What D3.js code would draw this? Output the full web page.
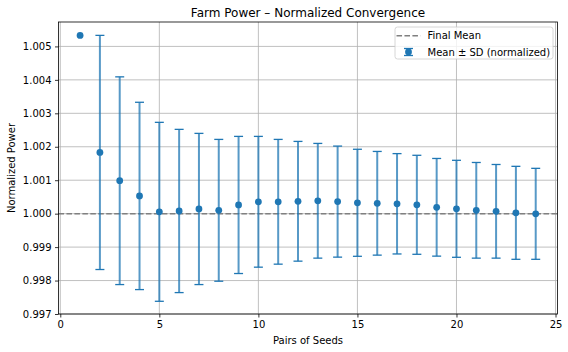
<!DOCTYPE html>
<html>
<head>
<meta charset="utf-8">
<script src="https://cdn.jsdelivr.net/npm/d3@7"></script>
<style>
    body { margin: 0; background: #fff; }
    svg { font-family: "DejaVu Sans", sans-serif; }
</style>
</head>
<body>
<div id="chart"></div>
<script>
// values
const pairs = [1, 2, 3, 4, 5, 6, 7, 8, 9, 10, 11, 12, 13, 14, 15, 16, 17, 18, 19, 20, 21, 22, 23, 24];
const means = [1.00533, 1.00183, 1.000985, 1.00053, 1.000055, 1.00008, 1.00014, 1.0001, 1.00026, 1.000355,
    1.000355, 1.00037, 1.000385, 1.00036, 1.000325, 1.00031, 1.000295, 1.000265, 1.00019, 1.000145,
    1.0001, 1.00007, 1.000025, 0.999995];
const sds = [null, 0.0035, 0.003105, 0.0028, 0.002675, 0.00244, 0.00226, 0.00212, 0.00205, 0.001955,
    0.001865, 0.00179, 0.001715, 0.00166, 0.0016, 0.00155, 0.0015, 0.00148, 0.00146, 0.00145,
    0.00143, 0.0014, 0.00139, 0.00136];
const finalMean = 1.0;
const xTicks = [0, 5, 10, 15, 20, 25];
const yTicks = [0.997, 0.998, 0.999, 1.000, 1.001, 1.002, 1.003, 1.004, 1.005];

const W = 568, H = 352;
const margin = {top: 22, right: 10.5, bottom: 38, left: 58.5};
const width = W - margin.left - margin.right;
const height = H - margin.top - margin.bottom;
const blue = "#1f77b4";

const svg = d3.select("#chart").append("svg")
    .attr("width", W)
    .attr("height", H);

const g = svg.append("g")
    .attr("transform", "translate(" + margin.left + "," + margin.top + ")");

// scales
const x = d3.scaleLinear().domain([-0.09, 25.1]).range([0, width]);
const y = d3.scaleLinear().domain([0.997, 1.00573]).range([height, 0]);

// grid
g.append("g").selectAll("line")
    .data(xTicks)
    .enter().append("line")
    .attr("x1", d => x(d)).attr("x2", d => x(d))
    .attr("y1", 0).attr("y2", height)
    .attr("stroke", "#b0b0b0").attr("stroke-width", 0.8);

g.append("g").selectAll("line")
    .data(yTicks)
    .enter().append("line")
    .attr("x1", 0).attr("x2", width)
    .attr("y1", d => y(d)).attr("y2", d => y(d))
    .attr("stroke", "#b0b0b0").attr("stroke-width", 0.8);

// final mean
g.append("line")
    .attr("x1", 0).attr("x2", width)
    .attr("y1", y(finalMean)).attr("y2", y(finalMean))
    .attr("stroke", "gray")
    .attr("stroke-width", 1.5)
    .attr("stroke-dasharray", "5.55,2.4");

// error bars
const data = pairs.map((p, i) => ({p: p, m: means[i], s: sds[i]}));
const withSd = data.filter(d => d.s !== null);

g.append("g").selectAll("line")
    .data(withSd)
    .enter().append("line")
    .attr("x1", d => x(d.p)).attr("x2", d => x(d.p))
    .attr("y1", d => y(d.m - d.s)).attr("y2", d => y(d.m + d.s))
    .attr("stroke", blue)
    .attr("stroke-opacity", 0.75)
    .attr("stroke-width", 2);

const caps = [];
withSd.forEach(d => {
    caps.push({p: d.p, v: d.m + d.s});
    caps.push({p: d.p, v: d.m - d.s});
});
g.append("g").selectAll("line")
    .data(caps)
    .enter().append("line")
    .attr("x1", d => x(d.p) - 4.5).attr("x2", d => x(d.p) + 4.5)
    .attr("y1", d => y(d.v)).attr("y2", d => y(d.v))
    .attr("stroke", blue)
    .attr("stroke-width", 1.3);

// points
g.append("g").selectAll("circle")
    .data(data)
    .enter().append("circle")
    .attr("cx", d => x(d.p))
    .attr("cy", d => y(d.m))
    .attr("r", 3.4)
    .attr("fill", blue);

// axes
const xAxis = d3.axisBottom(x).tickValues(xTicks).tickSize(3.5).tickPadding(3.5).tickFormat(d3.format("d"));
const yAxis = d3.axisLeft(y).tickValues(yTicks).tickSize(3.5).tickPadding(3.5).tickFormat(d3.format(".3f"));

const gx = g.append("g")
    .attr("transform", "translate(0," + height + ")")
    .call(xAxis);
const gy = g.append("g").call(yAxis);

[gx, gy].forEach(a => {
    a.select(".domain").remove();
    a.selectAll(".tick line").attr("stroke", "#000").attr("stroke-width", 0.8);
    a.selectAll(".tick text").attr("font-size", 10).attr("fill", "#000")
        .attr("font-family", "DejaVu Sans, sans-serif");
});

// frame
g.append("rect")
    .attr("width", width).attr("height", height)
    .attr("fill", "none")
    .attr("stroke", "#000")
    .attr("stroke-width", 0.8);

// labels
svg.append("text")
    .attr("x", margin.left + width / 2)
    .attr("y", 17)
    .attr("text-anchor", "middle")
    .attr("font-size", 12)
    .text("Farm Power – Normalized Convergence");

svg.append("text")
    .attr("x", margin.left + width / 2)
    .attr("y", 344)
    .attr("text-anchor", "middle")
    .attr("font-size", 10)
    .text("Pairs of Seeds");

svg.append("text")
    .attr("transform", "translate(15," + (margin.top + height / 2) + ") rotate(-90)")
    .attr("text-anchor", "middle")
    .attr("font-size", 10)
    .text("Normalized Power");

// legend
const leg = svg.append("g").attr("transform", "translate(395,27)");
leg.append("rect")
    .attr("width", 158).attr("height", 32)
    .attr("rx", 2.5)
    .attr("fill", "#fff").attr("fill-opacity", 0.8)
    .attr("stroke", "#ccc").attr("stroke-width", 0.8);

leg.append("line")
    .attr("x1", 1.5).attr("x2", 25.5)
    .attr("y1", 8.7).attr("y2", 8.7)
    .attr("stroke", "gray").attr("stroke-width", 1.5)
    .attr("stroke-dasharray", "5.55,2.4");
leg.append("text")
    .attr("x", 32.5).attr("y", 12.4)
    .attr("font-size", 10)
    .text("Final Mean");

leg.append("line")
    .attr("x1", 13.5).attr("x2", 13.5)
    .attr("y1", 21.5).attr("y2", 28.5)
    .attr("stroke", blue).attr("stroke-opacity", 0.75).attr("stroke-width", 2);
[21.5, 28.5].forEach(v => {
    leg.append("line")
        .attr("x1", 9).attr("x2", 18)
        .attr("y1", v).attr("y2", v)
        .attr("stroke", blue).attr("stroke-width", 1.3);
});
leg.append("circle")
    .attr("cx", 13.5).attr("cy", 25)
    .attr("r", 3.4)
    .attr("fill", blue);
leg.append("text")
    .attr("x", 32.5).attr("y", 28.6)
    .attr("font-size", 10)
    .text("Mean ± SD (normalized)");
</script>
</body>
</html>
